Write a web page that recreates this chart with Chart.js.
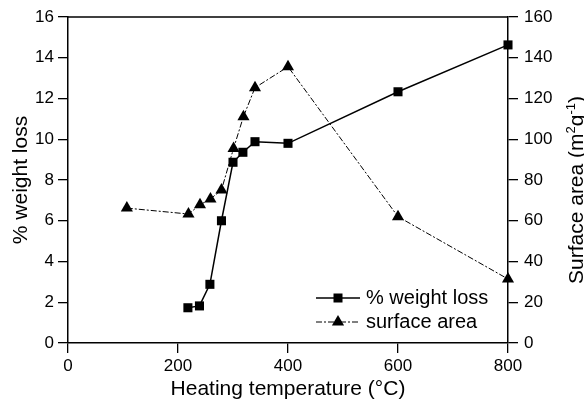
<!DOCTYPE html>
<html>
  <head>
    <meta charset="utf-8">
    <title>Weight loss and surface area</title>
    <script src="https://cdn.jsdelivr.net/npm/chart.js@4.4.1/dist/chart.umd.min.js"></script>
    <style>
      html, body { margin: 0; padding: 0; background: #fff; }
      #wrap { width: 584px; height: 403px; }
    </style>
  </head>
  <body>
    <div id="wrap"><canvas id="chart" width="584" height="403"></canvas></div>
    <script>
      // values
      const weightTemps = [218, 239, 258, 279, 300, 318, 340, 400, 600, 800];
      const weightLoss = [1.73, 1.82, 2.88, 6.0, 8.87, 9.36, 9.88, 9.8, 12.33, 14.63];
      const areaTemps = [107, 219, 240, 259, 279, 301, 319, 340, 400, 600, 800];
      const surfaceArea = [66.2, 63.3, 67.8, 70.7, 75.1, 95.5, 111.1, 125.3, 135.6, 62, 31.4];
      const xTicks = [0, 200, 400, 600, 800];
      const weightTicks = [0, 16, 2];   // min, max, step
      const areaTicks = [0, 160, 20];
      const seriesNames = ['% weight loss', 'surface area'];

      const FONT = '"Liberation Sans", Arial, sans-serif';
      const areaDash = [6, 2, 2, 2];

      function toPoints(xs, ys) {
        return xs.map((x, i) => ({ x: x, y: ys[i] }));
      }

      // frame top line, legend and right-hand title
      const extras = {
        id: 'extras',
        afterDraw(chart) {
          const ctx = chart.ctx;
          const a = chart.chartArea;
          ctx.save();
          ctx.strokeStyle = '#000';
          ctx.lineWidth = 1.5;
          ctx.beginPath();
          ctx.moveTo(a.left, a.top);
          ctx.lineTo(a.right, a.top);
          ctx.stroke();

          // legend
          const lx = a.right - 192, ly = a.bottom - 45;
          ctx.fillStyle = '#000';
          ctx.lineWidth = 1.5;
          ctx.beginPath();
          ctx.moveTo(lx, ly);
          ctx.lineTo(lx + 44, ly);
          ctx.stroke();
          ctx.fillRect(lx + 22 - 4.5, ly - 4.5, 9, 9);
          ctx.lineWidth = 1;
          ctx.setLineDash(areaDash);
          ctx.beginPath();
          ctx.moveTo(lx, ly + 24);
          ctx.lineTo(lx + 44, ly + 24);
          ctx.stroke();
          ctx.setLineDash([]);
          ctx.beginPath();
          ctx.moveTo(lx + 22, ly + 24 - 7);
          ctx.lineTo(lx + 22 + 6.1, ly + 24 + 3.5);
          ctx.lineTo(lx + 22 - 6.1, ly + 24 + 3.5);
          ctx.closePath();
          ctx.fill();
          ctx.font = '20px ' + FONT;
          ctx.textBaseline = 'middle';
          ctx.textAlign = 'left';
          ctx.fillText(seriesNames[0], lx + 50, ly);
          ctx.fillText(seriesNames[1], lx + 50, ly + 24);

          // right axis title, reading upwards
          const parts = [['Surface area (m', 21, 0], ['2', 13, -8], ['g', 21, 0], ['-1', 13, -8], [')', 21, 0]];
          let total = 0;
          parts.forEach(p => { ctx.font = p[1] + 'px ' + FONT; total += ctx.measureText(p[0]).width; });
          ctx.translate(576, (a.top + a.bottom) / 2 + 10);
          ctx.rotate(-Math.PI / 2);
          let px = -total / 2;
          ctx.textBaseline = 'alphabetic';
          parts.forEach(p => {
            ctx.font = p[1] + 'px ' + FONT;
            ctx.fillText(p[0], px, 7 + p[2]);
            px += ctx.measureText(p[0]).width;
          });
          ctx.restore();
        }
      };

      const axisLine = { display: true, color: '#000', width: 1.5 };
      const tickGrid = { drawOnChartArea: false, drawTicks: true, tickLength: 10, color: '#000', lineWidth: 1.3 };
      const tickFont = { family: FONT, size: 17 };

      new Chart(document.getElementById('chart'), {
        type: 'line',
        data: {
          datasets: [
            {
              label: seriesNames[0],
              data: toPoints(weightTemps, weightLoss),
              yAxisID: 'y',
              borderColor: '#000',
              backgroundColor: '#000',
              borderWidth: 1.5,
              pointStyle: 'rect',
              pointRadius: 6.4,
              pointBorderWidth: 0,
              tension: 0,
              clip: false
            },
            {
              label: seriesNames[1],
              data: toPoints(areaTemps, surfaceArea),
              yAxisID: 'y1',
              borderColor: '#000',
              backgroundColor: '#000',
              borderWidth: 1,
              borderDash: areaDash,
              pointStyle: 'triangle',
              pointRadius: 7,
              pointBorderWidth: 0,
              tension: 0,
              clip: false
            }
          ]
        },
        options: {
          responsive: false,
          animation: false,
          layout: { padding: { top: 17, left: 0, right: 0, bottom: 0 } },
          plugins: { legend: { display: false }, tooltip: { enabled: false } },
          scales: {
            x: {
              type: 'linear',
              min: xTicks[0],
              max: xTicks[xTicks.length - 1],
              afterBuildTicks: s => { s.ticks = xTicks.map(v => ({ value: v })); },
              afterFit: s => { s.height = 60; },
              border: axisLine,
              grid: tickGrid,
              ticks: { color: '#000', font: tickFont, padding: 3, maxRotation: 0 },
              title: { display: true, text: 'Heating temperature (°C)', color: '#000', font: { family: FONT, size: 21 }, padding: { top: 0, bottom: 1 } }
            },
            y: {
              position: 'left',
              min: weightTicks[0],
              max: weightTicks[1],
              afterFit: s => { s.width = 68; },
              border: axisLine,
              grid: tickGrid,
              ticks: { stepSize: weightTicks[2], color: '#000', font: tickFont, padding: 4 },
              title: { display: true, text: '% weight loss', color: '#000', font: { family: FONT, size: 21 }, padding: { top: 9, bottom: 0 } }
            },
            y1: {
              position: 'right',
              min: areaTicks[0],
              max: areaTicks[1],
              afterFit: s => { s.width = 76; },
              border: axisLine,
              grid: tickGrid,
              ticks: { stepSize: areaTicks[2], color: '#000', font: tickFont, padding: 6 }
            }
          }
        },
        plugins: [extras]
      });
    </script>
  </body>
</html>
